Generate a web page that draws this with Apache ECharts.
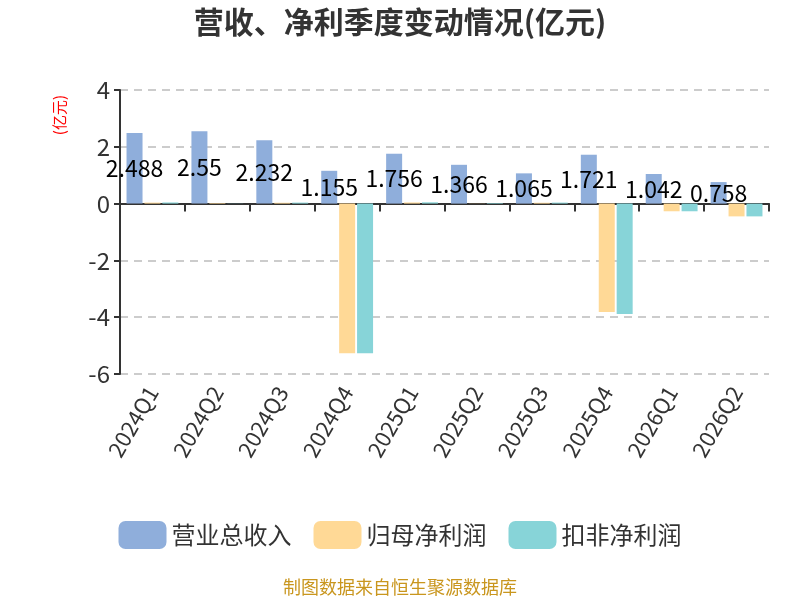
<!DOCTYPE html>
<html>
<head>
<meta charset="utf-8">
<script src="https://cdn.jsdelivr.net/npm/echarts@6/dist/echarts.min.js"></script>
<style>
  html, body { margin: 0; padding: 0; background: #fff; }
  #main { width: 800px; height: 600px; }
</style>
</head>
<body>
<div id="main"></div>
<script>
// 季度
const quarters = ['2024Q1', '2024Q2', '2024Q3', '2024Q4', '2025Q1', '2025Q2', '2025Q3', '2025Q4', '2026Q1', '2026Q2'];
// 营业总收入（亿元）
const revenue = [2.488, 2.55, 2.232, 1.155, 1.756, 1.366, 1.065, 1.721, 1.042, 0.758];
// 归母净利润（亿元）
const netProfit = [0.035, 0.02, 0.03, -5.27, 0.04, 0.005, 0.03, -3.82, -0.27, -0.45];
// 扣非净利润（亿元）
const deductProfit = [0.04, 0.005, 0.035, -5.27, 0.045, 0.02, 0.035, -3.89, -0.27, -0.45];

const FONT = '"Noto Sans CJK SC", "Noto Sans", sans-serif';

const chart = echarts.init(document.getElementById('main'));

const option = {
  textStyle: { fontFamily: FONT },
  title: {
    text: '营收、净利季度变动情况(亿元)',
    left: 'center',
    top: 2,
    textStyle: { fontSize: 30, fontWeight: 'bold', color: '#333', fontFamily: FONT }
  },
  grid: { left: 120, right: 31, top: 90, bottom: 226 },
  legend: {
    bottom: 46,
    left: 'center',
    itemWidth: 48,
    itemHeight: 28,
    itemGap: 22,
    icon: 'roundRect',
    textStyle: { fontSize: 24, color: '#333', fontFamily: FONT },
    data: ['营业总收入', '归母净利润', '扣非净利润']
  },
  xAxis: [
    {
      // 零线 + 刻度
      type: 'category',
      data: quarters,
      axisLine: { onZero: true, lineStyle: { color: '#333', width: 2 } },
      axisTick: { show: true, length: 8, lineStyle: { color: '#333', width: 2 } },
      axisLabel: { show: false }
    },
    {
      // 底部标签
      type: 'category',
      data: quarters,
      position: 'bottom',
      axisLine: { show: false, onZero: false },
      axisTick: { show: false },
      axisLabel: { rotate: 60, fontSize: 22, color: '#333', margin: 14, interval: 0 }
    }
  ],
  yAxis: {
    type: 'value',
    min: -6,
    max: 4,
    interval: 2,
    axisLine: { show: true, lineStyle: { color: '#333', width: 2 } },
    axisTick: { show: true, length: 6, lineStyle: { color: '#333', width: 2 } },
    axisLabel: { fontSize: 24, color: '#333', margin: 10 },
    splitLine: { lineStyle: { color: '#ccc', type: [8, 6], width: 2 } }
  },
  series: [
    {
      name: '营业总收入',
      type: 'bar',
      data: revenue,
      barWidth: 16,
      barGap: '12%',
      itemStyle: { color: '#8FAEDB' },
      label: { show: true, position: 'inside', color: '#000', fontSize: 23 }
    },
    {
      name: '归母净利润',
      type: 'bar',
      data: netProfit,
      barWidth: 16,
      barGap: '12%',
      itemStyle: { color: '#FFD996' }
    },
    {
      name: '扣非净利润',
      type: 'bar',
      data: deductProfit,
      barWidth: 16,
      barGap: '12%',
      itemStyle: { color: '#87D4D8' }
    }
  ],
  graphic: [
    {
      // y 轴单位
      type: 'text',
      left: 52,
      top: 95,
      rotation: Math.PI / 2,
      style: { text: '(亿元)', fill: '#f00', fontSize: 15, fontFamily: FONT }
    },
    {
      // 数据来源
      type: 'text',
      left: 'center',
      top: 578,
      style: { text: '制图数据来自恒生聚源数据库', fill: '#C9961E', fontSize: 18, fontFamily: FONT }
    }
  ]
};

chart.setOption(option);
</script>
</body>
</html>
